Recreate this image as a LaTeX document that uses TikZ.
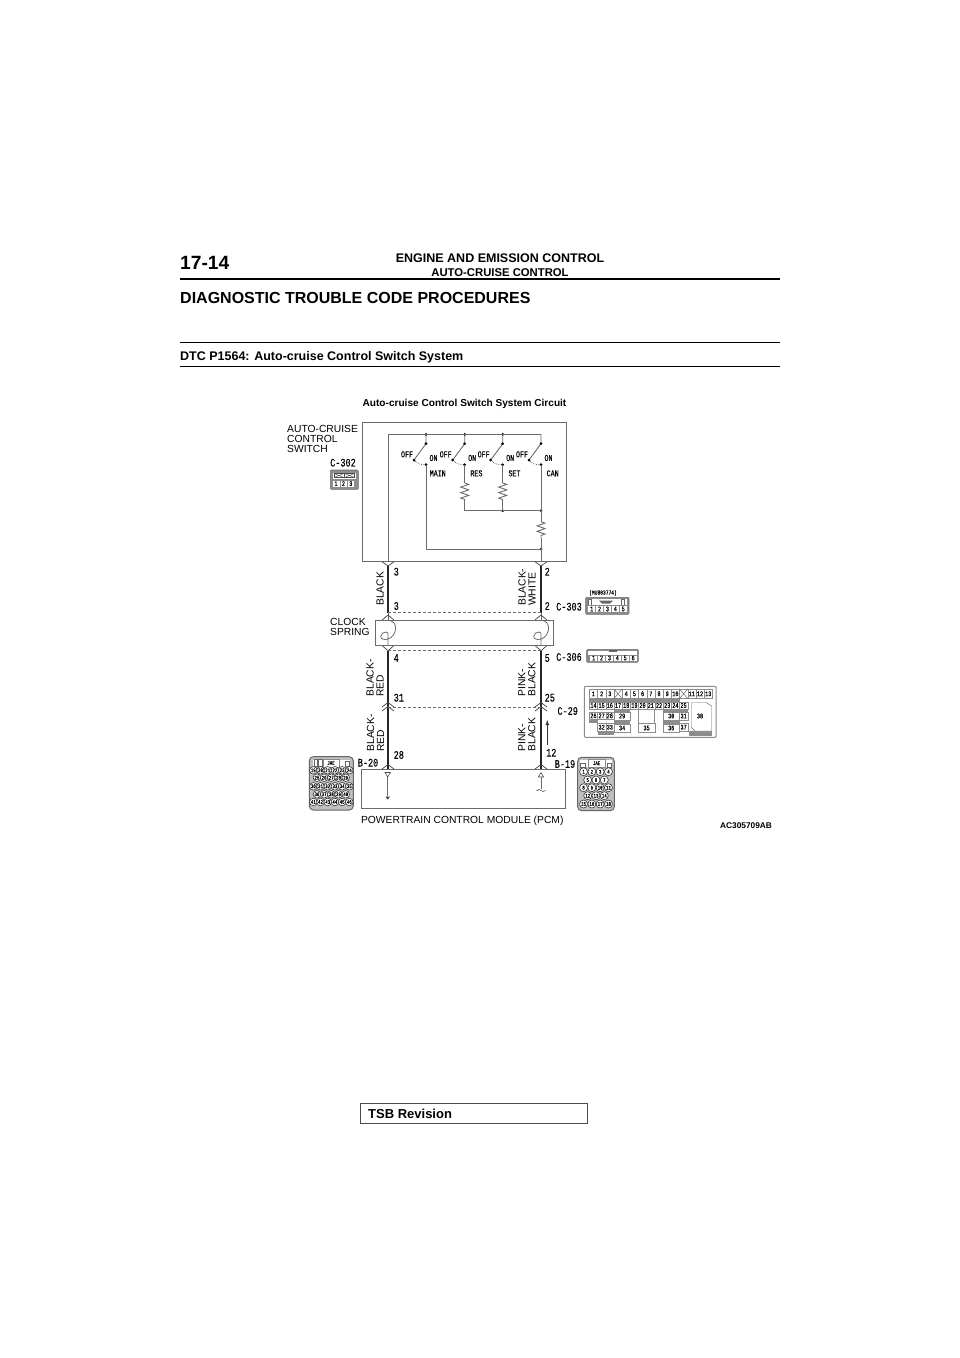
\documentclass[tikz,border=0pt]{standalone}
\usepackage{fontspec}
\setmainfont{Liberation Sans}
\newfontfamily\gothic[FakeStretch=.74,FakeBold=.12]{Liberation Mono}
\usetikzlibrary{decorations.pathmorphing}
\definecolor{wiregray}{gray}{.42}
\definecolor{bandgray}{gray}{.55}
\tikzset{
  plaintext/.style={inner sep=0pt,font=\fontsize{10.3}{10}\selectfont,align=left},
  wirename/.style={plaintext,rotate=90,anchor=west},
  pinno/.style={inner sep=0pt,font=\gothic\fontsize{11.5}{11.5}\selectfont,anchor=west},
  switchtext/.style={inner sep=0pt,font=\gothic\fontsize{9}{9}\selectfont},
  headtext/.style={inner sep=0pt,anchor=base west,font=\bfseries\fontsize{12.5}{12.5}\selectfont},
  unitbox/.style={draw=wiregray,line width=.9pt,inner sep=0pt},
  inwire/.style={draw=wiregray,line width=.9pt},
  wire/.style={draw=black!85,line width=1.7pt},
  matedash/.style={draw=wiregray,line width=.7pt,dashed,dash pattern=on 3pt off 2pt},
  chevron/.style={draw=black!75,line width=.7pt},
  jdot/.style={fill=black,draw=none,circle,minimum size=3pt,inner sep=0pt},
  resistor/.style={decorate,decoration={zigzag,segment length=5.5pt,amplitude=4pt}},
  shell/.style={draw=wiregray,fill=bandgray,line width=.6pt,rounded corners=1pt},
  pincell/.style={draw=black!45,fill=white,line width=.4pt,inner sep=0pt,
    font=\gothic\fontsize{7}{7}\selectfont},
  pincirc/.style={draw=black!80,fill=white,circle,line width=.6pt,inner sep=0pt,
    font=\gothic\fontsize{5.5}{5.5}\selectfont},
}
\begin{document}
\begin{tikzpicture}[x=1pt,y=-1pt]
  \useasboundingbox (0,0) rectangle (960,1358);

  % page heading
  \node[headtext,font=\bfseries\fontsize{19.2}{19.2}\selectfont] (pagenum) at (180,269) {17-14};
  \node[inner sep=0pt,anchor=base,font=\bfseries\fontsize{12.5}{12.5}\selectfont] (chapter) at (500,262) {ENGINE AND EMISSION CONTROL};
  \node[inner sep=0pt,anchor=base,font=\bfseries\fontsize{11.3}{11.3}\selectfont] (section) at (500,276) {AUTO-CRUISE CONTROL};
  \draw[line width=1.6pt] (180,279) -- (780,279);
  \node[headtext,font=\bfseries\fontsize{16}{16}\selectfont] (proctitle) at (180,303) {DIAGNOSTIC TROUBLE CODE PROCEDURES};
  \draw[line width=.8pt] (180,342) -- (780,342);
  \node[headtext] (dtctitle) at (180,360) {DTC P1564: Auto-cruise Control Switch System};
  \draw[line width=.8pt] (180,366) -- (780,366);
  \node[inner sep=0pt,anchor=base,font=\bfseries\fontsize{10.1}{10.1}\selectfont] (circuittitle) at (464.5,406) {Auto-cruise Control Switch System Circuit};

  % switch unit
  \node[unitbox,minimum width=203.5pt,minimum height=139pt] (switchunit) at (464.25,492.2) {};
  \node[plaintext,anchor=north west] (switchname) at (287,425) {AUTO-CRUISE\\CONTROL\\SWITCH};
  \node[pinno,anchor=center] (c302name) at (343,462.7) {C-302};

  \coordinate (railstart) at (388,434.3);
  \coordinate (leftout) at (388,561.7);
  \coordinate (rightout) at (541,561.7);
  \foreach \k/\x/\nm in {a/426/MAIN,b/464.7/RES,c/502.7/SET,d/541/CAN}{
    \coordinate (rail\k) at (\x,434.3);
    \coordinate (fix\k) at (\x,443.7);
    \coordinate (blade\k) at (\x-12,460);
    \coordinate (on\k) at (\x,464.7);
    \draw[inwire] (rail\k) -- (fix\k) -- (blade\k);
    \draw[black!70,line width=.7pt,densely dotted] (blade\k) to[bend right=25] (on\k);
    \node[jdot] (fixdot\k) at (fix\k) {};
    \node[jdot] (bladedot\k) at (blade\k) {};
    \node[jdot] (ondot\k) at (on\k) {};
    \node[switchtext] (offtext\k) at (\x-19,454.3) {OFF};
    \node[switchtext] (ontext\k) at (\x+7.5,458) {ON};
    \node[switchtext] (nametext\k) at (\x+11.7,473.3) {\nm};
  }
  \foreach \k in {a,b,c}{
    \node[jdot] (raildot\k) at (rail\k) {};
  }
  \draw[inwire] (leftout) -- (railstart) -- (raild);

  % resistors and return lines
  \coordinate (rbtop) at (464.7,483);
  \coordinate (rbend) at (464.7,500);
  \coordinate (rctop) at (502.7,483);
  \coordinate (rcend) at (502.7,500);
  \coordinate (rdtop) at (541,521.7);
  \coordinate (rdend) at (541,538);
  \coordinate (jb) at (464.7,510.7);
  \node[jdot] (jc) at (502.7,510.7) {};
  \node[jdot] (jd) at (541,510.7) {};
  \node[jdot] (je) at (541,549) {};
  \coordinate (mainturn) at (426,549);
  \draw[inwire] (onb) -- (rbtop);
  \draw[inwire,resistor] (rbtop) -- (rbend);
  \draw[inwire] (rbend) -- (jb) -- (jd.center);
  \draw[inwire] (onc) -- (rctop);
  \draw[inwire,resistor] (rctop) -- (rcend);
  \draw[inwire] (rcend) -- (jc.center);
  \draw[inwire] (ond) -- (rdtop);
  \draw[inwire,resistor] (rdtop) -- (rdend);
  \draw[inwire] (rdend) -- (rightout);
  \draw[inwire] (ona) -- (mainturn) -- (je.center);

  % harness
  \foreach \k/\x in {l/388,r/541}{
    \coordinate (top\k) at (\x,566);
    \coordinate (matea\k) at (\x,612.7);
    \coordinate (springin\k) at (\x,620);
    \coordinate (springout\k) at (\x,645);
    \coordinate (mateb\k) at (\x,650.7);
    \coordinate (matec\k) at (\x,707);
    \coordinate (pcmin\k) at (\x,769.3);
    \draw[wire] (top\k) -- (matea\k);
    \draw[wire] (mateb\k) -- (matec\k);
    \draw[wire] (matec\k) -- (pcmin\k);
    \draw[inwire] (matea\k) -- (springin\k);
    \draw[chevron] (\x-6,561.7) -- (top\k) -- (\x+6,561.7);
    \draw[chevron] (\x-6,620) -- (\x,615) -- (\x+6,620);
    \draw[chevron] (\x-6,645.5) -- (mateb\k) -- (\x+6,645.5);
    \draw[chevron] (\x-6,707) -- (\x,702.5) -- (\x+6,707);
    \draw[chevron] (\x-6,711) -- (\x,706.5) -- (\x+6,711);
    \draw[chevron] (\x-6,769) -- (\x,764.5) -- (\x+6,769);
  }
  \draw[matedash] (mateal) -- (matear);
  \draw[matedash] (matebl) -- (matebr);
  \draw[matedash] (matecl) -- (matecr);

  % clock spring
  \node[unitbox,minimum width=178.7pt,minimum height=25pt] (clockspring) at (464.35,632.5) {};
  \node[plaintext,anchor=north west] (clockname) at (330,618.5) {CLOCK\\SPRING};
  \foreach \k/\x in {l/388,r/541}{
    \draw[inwire,line width=.8pt] (springin\k)
      .. controls (\x+6,621) and (\x+7.6,624.5) .. (\x+7.6,628.5)
      .. controls (\x+7.6,633) and (\x+4,638) .. (\x,639)
      .. controls (\x-3,640) and (\x-7.3,639.5) .. (\x-7.3,636.5)
      .. controls (\x-7.3,633.5) and (\x-4,632) .. (\x-2,632)
      .. controls (\x-.5,632) and (\x,633) .. (\x,634) -- (springout\k);
  }

  % wire colours
  \node[wirename] (wname1) at (380,606) {BLACK};
  \node[wirename] (wname2) at (527,606) {BLACK-\\WHITE};
  \node[wirename] (wname3) at (375,696.7) {BLACK-\\RED};
  \node[wirename] (wname4) at (527,696.7) {PINK-\\BLACK};
  \node[wirename] (wname5) at (375.5,751.7) {BLACK-\\RED};
  \node[wirename] (wname6) at (527,751.7) {PINK-\\BLACK};

  % pin numbers
  \foreach \k/\x/\y/\t in {a/393.5/571.7/3,b/393.5/606/3,c/544.5/571.7/2,d/544.5/606/2,
      e/393.5/658/4,f/544.5/658/5,g/393.5/697.7/31,h/544.5/697.7/25,
      i/393.5/755/28,j/546/752.7/12}{
    \node[pinno] (pinno\k) at (\x,\y) {\t};
  }
  \node[pinno,anchor=center] (c303name) at (569,606.7) {C-303};
  \node[pinno,anchor=center] (c306name) at (569,657) {C-306};
  \node[pinno,anchor=center] (c29name) at (567.7,711) {C-29};
  \node[pinno,anchor=center] (b20name) at (368,762.7) {B-20};
  \node[pinno,anchor=center] (b19name) at (565,764) {B-19};
  \coordinate (flowfrom) at (547.3,745);
  \coordinate (flowto) at (547.3,720);
  \draw[-latex,black!80,line width=.8pt] (flowfrom) -- (flowto);

  % PCM
  \node[unitbox,minimum width=204.7pt,minimum height=39pt] (pcm) at (463.35,788.8) {};
  \node[plaintext,anchor=base] (pcmname) at (462.3,823) {POWERTRAIN CONTROL MODULE (PCM)};
  \node[inner sep=0pt,anchor=base west,font=\bfseries\fontsize{8.3}{8.3}\selectfont] (partcode) at (720,828) {AC305709AB};
  \coordinate (ldrop) at (387.7,777);
  \coordinate (lgnd) at (387.7,796);
  \coordinate (rdrop) at (541,777);
  \coordinate (rhook) at (541,789);
  \draw[black!70,line width=.6pt] (385,772.5) -- (390.4,772.5) -- (ldrop) -- cycle;
  \draw[black!70,line width=.6pt] (538.3,777) -- (543.7,777) -- (541,772.5) -- cycle;
  \draw[inwire,line width=.7pt] (ldrop) -- (lgnd);
  \fill[black!80] (385.5,796.5) -- (390,796.5) -- (387.7,799.5) -- cycle;
  \draw[inwire,line width=.7pt] (rdrop) -- (rhook);
  \draw[black!70,line width=.6pt] (536.5,790.8) .. controls (539,789) and (540,789) .. (541,790.5)
    .. controls (542,792) and (544,791.5) .. (545.5,790.5);

  % C-302
  \draw[shell] (330.3,470) rectangle (358.3,489.3);
  \fill[white] (333,472.5) rectangle (355.5,478.5);
  \foreach \x in {334,344.5}{
    \draw[black!70,line width=.4pt] (\x,473.5) rectangle (\x+10,477.5);
    \draw[black!70,line width=.4pt] (\x,473.5) -- (\x+10,477.5) (\x,477.5) -- (\x+10,473.5);
  }
  \foreach \n [count=\k from 0] in {1,2,3}{
    \node[pincell,minimum width=7.4pt,minimum height=7.3pt] (c302-\n) at (336+7.4*\k,483.6) {\n};
  }

  % C-303
  \node[inner sep=0pt,font=\gothic\fontsize{6.2}{6.2}\selectfont] (c303part) at (603,593) {(MU803774)};
  \draw[shell] (585.7,597.3) rectangle (629,614.3);
  \fill[white] (587.5,599) rectangle (627.3,605.5);
  \fill[black!60] (599,600.5) -- (613,600.5) -- (610,603.5) -- (602,603.5) -- cycle;
  \draw[black!60,line width=.4pt] (588.5,599.5) rectangle (591.5,605.5) (621.5,599.5) rectangle (624.5,605.5);
  \foreach \n [count=\k from 0] in {1,2,3,4,5}{
    \node[pincell,minimum width=7.9pt,minimum height=6.8pt] (c303-\n) at (591.6+7.9*\k,609) {\n};
  }

  % C-306
  \draw[shell] (586.7,649.3) rectangle (638.3,662.3);
  \fill[white] (588,650.5) rectangle (637,655);
  \fill[black!60] (609,650) rectangle (617,652.3);
  \foreach \n [count=\k from 0] in {1,2,3,4,5,6}{
    \node[pincell,minimum width=7.9pt,minimum height=6.2pt] (c306-\n) at (593.6+7.9*\k,658) {\n};
  }

  % C-29
  \draw[draw=bandgray,fill=white,line width=1pt,rounded corners=1pt] (584.3,686.3) rectangle (716,737.3);
  \fill[bandgray] (589.3,698.7) rectangle (679.5,702.7);
  \fill[bandgray] (613.9,709.3) rectangle (630.3,713);
  \fill[bandgray] (662.9,709.3) rectangle (687.7,713);
  \fill[bandgray] (589.3,719) rectangle (597.5,722.7);
  \fill[bandgray] (597.5,731) rectangle (613.9,735);
  \fill[bandgray] (613.9,721) rectangle (630.3,724.5);
  \fill[bandgray] (662.9,721) rectangle (679.5,724.5);
  \fill[bandgray] (688.5,731) rectangle (711.9,735.5);
  \draw[bandgray,line width=.7pt] (630.3,709.3) -- (638.5,709.3) -- (638.5,723) -- (654.7,723) -- (654.7,709.3) -- (662.9,709.3);
  \foreach \n/\c in {1/0,2/1,3/2,4/4,5/5,6/6,7/7,8/8,9/9,10/10,11/12,12/13,13/14}{
    \node[pincell,minimum width=8.2pt,minimum height=9.7pt] (c29-\n) at (593.4+8.2*\c,693.8) {\n};
  }
  \foreach \c in {3,11}{
    \node[pincell,minimum width=8.2pt,minimum height=9.7pt] (c29x\c) at (593.4+8.2*\c,693.8) {};
    \draw[black!60,line width=.5pt] (c29x\c.north west) -- (c29x\c.south east) (c29x\c.south west) -- (c29x\c.north east);
  }
  \foreach \n [count=\k from 0] in {14,15,16,17,18,19,20,21,22,23,24,25}{
    \node[pincell,minimum width=8.2pt,minimum height=7.6pt] (c29-\n) at (593.4+8.2*\k,705.5) {\n};
  }
  \foreach \n/\x/\y/\w/\h in {26/593.4/715.8/8.2/7,27/601.6/715.8/8.2/7,28/609.8/715.8/8.2/7,
      29/622.1/716/16.4/7.4,30/671.2/716/16.4/7.4,31/683.6/716/8.2/8.4,
      32/601.6/727.2/8.2/7.4,33/609.8/727.2/8.2/7.4,34/622.1/728/16.4/8,
      35/646.6/728/16.4/9,36/671.2/728/16.4/8,37/683.6/727.2/8.2/7.4}{
    \node[pincell,minimum width=\w pt,minimum height=\h pt] (c29-\n) at (\x,\y) {\n};
  }
  \draw[black!60,fill=white,line width=.4pt] (691.5,702.5) -- (706,702.5) -- (711.7,706) -- (711.7,731) -- (695,731) -- (691.5,727.5) -- cycle;
  \node[inner sep=0pt,font=\gothic\fontsize{7}{7}\selectfont] (c29-38) at (700,716) {38};

  % B-20
  \draw[draw=black!60,fill=black!25,line width=1pt,rounded corners=4pt] (309.3,756.7) rectangle (353.3,810);
  \fill[white] (313,760) rectangle (350,767);
  \draw[black!60,line width=.4pt] (314,759.5) rectangle (317.5,766.5) (318.5,759.5) rectangle (322,766.5) (345,761.5) rectangle (349,766.5);
  \node[pincell,minimum width=16pt,minimum height=8pt,font=\gothic\fontsize{5.5}{5.5}\selectfont] (b20jae) at (331,763) {JAE};
  \foreach \y/\sx/\pins in {770.3/313.3/{19,20,21,22,23,24},777.7/316.9/{25,26,27,28,29},
      786.3/313.3/{30,31,32,33,34,35},794.3/316.9/{36,37,38,39,40},802/313.3/{41,42,43,44,45,46}}{
    \foreach \n [count=\k from 0] in \pins{
      \node[pincirc,minimum size=7.6pt] (b20-\n) at (\sx+7.2*\k,\y) {\n};
    }
  }

  % B-19
  \draw[draw=black!60,fill=black!25,line width=1pt,rounded corners=4pt] (577.7,757.3) rectangle (614.3,810.7);
  \fill[white] (580,760) rectangle (612,767.3);
  \draw[black!60,line width=.4pt] (580.5,763) rectangle (585,767) (607,763) rectangle (611.5,767);
  \node[pincell,minimum width=16.7pt,minimum height=8pt,font=\gothic\fontsize{5.5}{5.5}\selectfont] (b19jae) at (596.6,763.3) {JAE};
  \foreach \y/\sx/\pins in {771.7/583.55/{1,2,3,4},780/587.7/{5,6,7},787.7/583.55/{8,9,10,11},
      795.7/587.7/{12,13,14},804/583.55/{15,16,17,18}}{
    \foreach \n [count=\k from 0] in \pins{
      \node[pincirc,minimum size=8pt] (b19-\n) at (\sx+8.3*\k,\y) {\n};
    }
  }

  % revision box
  \node[draw=black!70,line width=.9pt,inner sep=0pt,minimum width=227pt,minimum height=20pt] (tsbbox) at (473.5,1113.3) {};
  \node[inner sep=0pt,anchor=base west,font=\bfseries\fontsize{13}{13}\selectfont] (tsbtext) at (368,1118) {TSB Revision};
\end{tikzpicture}
\end{document}
